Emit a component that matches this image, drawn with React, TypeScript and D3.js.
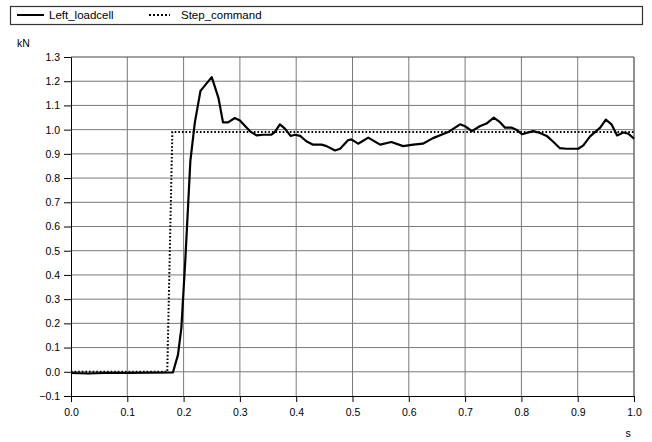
import * as d3 from "d3"
import React, { useRef, useEffect } from "react"

const width = 652
const height = 442

// Left_loadcell (s, kN)
const loadTime = [
    0.000, 0.030, 0.060, 0.100, 0.140, 0.181, 0.190, 0.196, 0.203, 0.212,
    0.220, 0.230, 0.250, 0.262, 0.270, 0.279, 0.291, 0.300, 0.318, 0.330,
    0.341, 0.356, 0.362, 0.371, 0.380, 0.390, 0.398, 0.407, 0.418, 0.430,
    0.445, 0.454, 0.469, 0.478, 0.492, 0.498, 0.510, 0.528, 0.549, 0.569,
    0.590, 0.608, 0.625, 0.643, 0.670, 0.691, 0.700, 0.712, 0.726, 0.738,
    0.751, 0.762, 0.771, 0.783, 0.791, 0.801, 0.821, 0.833, 0.845, 0.857,
    0.868, 0.880, 0.901, 0.910, 0.922, 0.940, 0.950, 0.960, 0.970, 0.981,
    0.990, 1.000
]
const loadValue = [
    -0.005, -0.007, -0.005, -0.005, -0.004, -0.003, 0.07, 0.18, 0.46, 0.87,
    1.03, 1.16, 1.217, 1.13, 1.03, 1.03, 1.048, 1.038, 0.993, 0.976,
    0.979, 0.979, 0.99, 1.022, 1.004, 0.974, 0.979, 0.974, 0.952, 0.938,
    0.938, 0.932, 0.914, 0.921, 0.956, 0.96, 0.942, 0.967, 0.938, 0.949,
    0.932, 0.938, 0.942, 0.965, 0.99, 1.022, 1.014, 0.994, 1.014, 1.025,
    1.05, 1.031, 1.008, 1.008, 1.0, 0.981, 0.994, 0.986, 0.974, 0.949,
    0.924, 0.921, 0.921, 0.935, 0.972, 1.008, 1.041, 1.022, 0.976, 0.988,
    0.983, 0.963
]

// Step_command
const stepTime = [0.0, 0.171, 0.180, 1.0]
const stepValue = [0.0, 0.0, 0.99, 0.99]

const xTicks = [0.0, 0.1, 0.2, 0.3, 0.4, 0.5, 0.6, 0.7, 0.8, 0.9, 1.0]
const yTicks = [-0.1, 0.0, 0.1, 0.2, 0.3, 0.4, 0.5, 0.6, 0.7, 0.8, 0.9, 1.0, 1.1, 1.2, 1.3]

const seriesNames = ["Left_loadcell", "Step_command"]

function App() {
    const ref = useRef(null)

    useEffect(() => {
        draw()
    }, [])

    const draw = () => {
        const svg = d3.select(ref.current)
        svg.selectAll("*").remove()

        const margin = { left: 71, right: 18, top: 57, bottom: 46 }
        const font = "Liberation Sans, Arial, sans-serif"

        const x = d3.scaleLinear().domain([0, 1]).range([margin.left, width - margin.right])
        const y = d3.scaleLinear().domain([-0.1, 1.3]).range([height - margin.bottom, margin.top])

        // grid
        svg.append("g")
            .selectAll("line")
            .data(xTicks.slice(1))
            .enter()
            .append("line")
            .attr("x1", d => x(d)).attr("x2", d => x(d))
            .attr("y1", y(-0.1)).attr("y2", y(1.3))
            .attr("stroke", d => d === 1 ? "#222" : "#7a7a7a")
            .attr("stroke-width", 1)

        svg.append("g")
            .selectAll("line")
            .data(yTicks.slice(1))
            .enter()
            .append("line")
            .attr("x1", x(0)).attr("x2", x(1))
            .attr("y1", d => y(d)).attr("y2", d => y(d))
            .attr("stroke", d => d === 1.3 ? "#444" : "#7a7a7a")
            .attr("stroke-width", 1)

        // axes
        const xAxis = d3.axisBottom(x)
            .tickValues(xTicks)
            .tickSize(6)
            .tickSizeOuter(0)
            .tickFormat(d3.format(".1f"))

        const yAxis = d3.axisLeft(y)
            .tickValues(yTicks)
            .tickSize(7)
            .tickSizeOuter(0)
            .tickFormat(d3.format(".1f"))

        const gx = svg.append("g")
            .attr("transform", `translate(0,${y(-0.1)})`)
            .call(xAxis)
        gx.selectAll("text")
            .attr("font-size", "10.5px")
            .attr("font-family", font)
            .attr("fill", "#000")
            .attr("dy", "0.71em")
            .attr("y", 13)
        gx.select(".domain").attr("stroke", "#000")

        const gy = svg.append("g")
            .attr("transform", `translate(${x(0)},0)`)
            .call(yAxis)
        gy.selectAll("text")
            .attr("font-size", "10.5px")
            .attr("font-family", font)
            .attr("fill", "#000")
            .attr("x", -11)
        gy.select(".domain").attr("stroke", "#000")

        // axis units
        svg.append("text")
            .attr("x", 17).attr("y", 47)
            .text("kN")
            .attr("font-size", "10.5px")
            .attr("font-family", font)

        svg.append("text")
            .attr("x", x(1) - 6).attr("y", 437)
            .attr("text-anchor", "middle")
            .text("s")
            .attr("font-size", "10.5px")
            .attr("font-family", font)

        // series
        const line = d3.line()
            .x(d => x(d[0]))
            .y(d => y(d[1]))

        svg.append("path")
            .datum(stepTime.map((t, i) => [t, stepValue[i]]))
            .attr("d", line)
            .attr("fill", "none")
            .attr("stroke", "#000")
            .attr("stroke-width", 2)
            .attr("stroke-dasharray", "1.6,2")

        svg.append("path")
            .datum(loadTime.map((t, i) => [t, loadValue[i]]))
            .attr("d", line)
            .attr("fill", "none")
            .attr("stroke", "#000")
            .attr("stroke-width", 2.2)
            .attr("stroke-linejoin", "round")

        // legend
        const legend = svg.append("g")
        legend.append("rect")
            .attr("x", 10.5).attr("y", 6.5)
            .attr("width", 632).attr("height", 18)
            .attr("fill", "#fff")
            .attr("stroke", "#333")
            .attr("stroke-width", 1.2)

        const legendX = [17, 149]
        seriesNames.forEach((name, i) => {
            legend.append("line")
                .attr("x1", legendX[i]).attr("x2", legendX[i] + (i === 0 ? 27 : 21))
                .attr("y1", 15).attr("y2", 15)
                .attr("stroke", "#000")
                .attr("stroke-width", 2)
                .attr("stroke-dasharray", i === 0 ? null : "2,2")
            legend.append("text")
                .attr("x", legendX[i] + 32)
                .attr("y", 19)
                .text(name)
                .attr("font-size", "11.5px")
                .attr("font-family", font)
        })
    }

    return (
        <div>
            <svg ref={ref} width={width} height={height}
                style={{ position: "absolute", left: 0, top: 0, background: "#fff" }}>
            </svg>
        </div>
    )
}

export default App
